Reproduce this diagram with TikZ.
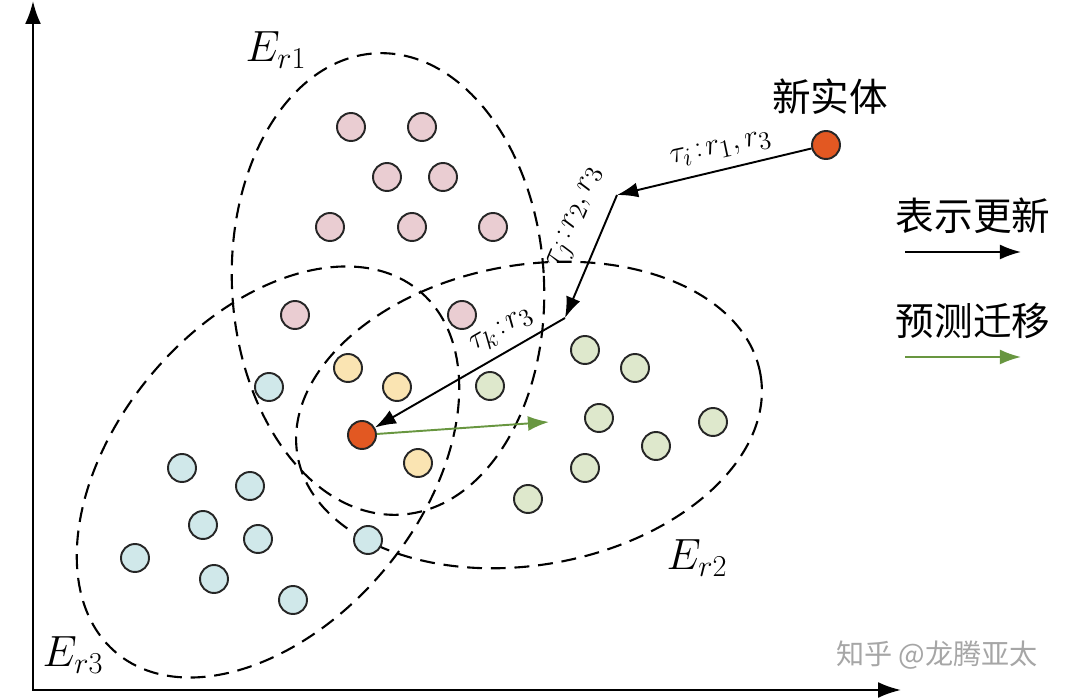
\documentclass[tikz,border=0pt]{standalone}
\usepackage{fontspec}
\newfontfamily\cjk{Noto Sans CJK SC}
\usepackage{tikz}
\usetikzlibrary{arrows.meta}
\definecolor{pinkfill}{RGB}{234,205,210}
\definecolor{yellowfill}{RGB}{250,228,178}
\definecolor{bluefill}{RGB}{208,232,234}
\definecolor{greenfill}{RGB}{222,232,204}
\definecolor{redfill}{RGB}{226,88,34}
\definecolor{movegreen}{RGB}{104,150,64}
\tikzset{
	ent/.style={
		circle,
		draw=black!85,
		line width=1.1pt,
		minimum size=0.56cm,
		inner sep=0pt
	}
}

\begin{document}
\begin{tikzpicture}[x=0.02cm,y=-0.02cm]
		\tikzstyle{region}=[line width=1.2pt, dash pattern=on 8.5pt off 5pt]
		\tikzstyle{axis}=[line width=1.3pt, {Latex[length=13pt,width=9pt]}-{Latex[length=13pt,width=9pt]}]
		\tikzstyle{update}=[line width=1.1pt, -{Latex[length=12pt,width=8.5pt]}]
		\tikzstyle{move}=[line width=1.1pt, draw=movegreen, -{Latex[length=12pt,width=8.5pt]}]
		\tikzstyle{lab}=[font=\fontsize{19}{20}\selectfont]
		\tikzstyle{setname}=[font=\fontsize{23}{24}\selectfont]
		\tikzstyle{zh}=[font=\cjk\fontsize{22}{24}\selectfont]
		\useasboundingbox (0,0) rectangle (1080,699);
		
		% axes
		\coordinate (o) at (33,690);
		\coordinate (ytop) at (33,1);
		\coordinate (xend) at (901,690);
		\draw[axis] (ytop) -- (o) -- (xend);
		
		% relation sets
		\draw[region, rotate around={3:(388,284)}] (388,284) ellipse [x radius=156, y radius=231];
		\draw[region, rotate around={10:(529,415)}] (529,415) ellipse [x radius=235, y radius=150];
		\draw[region, rotate around={50:(268,472)}] (268,472) ellipse [x radius=236, y radius=152];
		\node[setname] (er1) at (276,50) {$E_{r1}$};
		\node[setname] (er2) at (697,558) {$E_{r2}$};
		\node[setname] (er3) at (73,655) {$E_{r3}$};
		
		\node[ent, fill=pinkfill] (p1) at (351,127) {};
		\node[ent, fill=pinkfill] (p2) at (422,127) {};
		\node[ent, fill=pinkfill] (p3) at (387,177) {};
		\node[ent, fill=pinkfill] (p4) at (443,177) {};
		\node[ent, fill=pinkfill] (p5) at (330,227) {};
		\node[ent, fill=pinkfill] (p6) at (412,227) {};
		\node[ent, fill=pinkfill] (p7) at (493,227) {};
		\node[ent, fill=pinkfill] (p8) at (295,315) {};
		\node[ent, fill=pinkfill] (p9) at (462,315) {};
		
		\node[ent, fill=yellowfill] (y1) at (348,368) {};
		\node[ent, fill=yellowfill] (y2) at (397,387) {};
		\node[ent, fill=yellowfill] (y3) at (418,463) {};
		
		\node[ent, fill=bluefill] (c1) at (269,387) {};
		\node[ent, fill=bluefill] (c2) at (182,468) {};
		\node[ent, fill=bluefill] (c3) at (250,486) {};
		\node[ent, fill=bluefill] (c4) at (203,525) {};
		\node[ent, fill=bluefill] (c5) at (258,539) {};
		\node[ent, fill=bluefill] (c6) at (135,558) {};
		\node[ent, fill=bluefill] (c7) at (214,579) {};
		\node[ent, fill=bluefill] (c8) at (293,600) {};
		\node[ent, fill=bluefill] (c9) at (368,540) {};
		
		\node[ent, fill=greenfill] (g1) at (490,386) {};
		\node[ent, fill=greenfill] (g2) at (585,350) {};
		\node[ent, fill=greenfill] (g3) at (635,368) {};
		\node[ent, fill=greenfill] (g4) at (599,418) {};
		\node[ent, fill=greenfill] (g5) at (713,422) {};
		\node[ent, fill=greenfill] (g6) at (656,446) {};
		\node[ent, fill=greenfill] (g7) at (585,468) {};
		\node[ent, fill=greenfill] (g8) at (528,499) {};
		
		% new entity and its path
		\node[ent, fill=redfill] (new) at (826,145) {};
		\node[zh] (newlab) at (830,97) {新实体};
		\node[ent, fill=redfill] (tgt) at (362,435) {};
		\coordinate (k1) at (617,195);
		\coordinate (k2) at (565,318);
		\coordinate (gtip) at (549,422);
		
		\path
		(new) edge [update] (k1)
		(k1) edge [update] (k2)
		(k2) edge [update] (tgt)
		(tgt) edge [move] (gtip)
		;
		\node[lab, rotate=12] (ti) at (721,149) {$\tau_i\!:\!r_1,r_3$};
		\node[lab, rotate=67] (tj) at (577,218) {$\tau_j\!:\!r_2,r_3$};
		\node[lab, rotate=30] (tk) at (502,331) {$\tau_k\!:\!r_3$};
		
		% legend
		\node[zh] (leg1) at (973,216) {表示更新};
		\coordinate (l1a) at (905,252);
		\coordinate (l1b) at (1021,252);
		\draw[update] (l1a) -- (l1b);
		\node[zh] (leg2) at (973,321) {预测迁移};
		\coordinate (l2a) at (905,357);
		\coordinate (l2b) at (1021,357);
		\draw[move] (l2a) -- (l2b);
		
		\node[font=\cjk\fontsize{16}{18}\selectfont, text=black!35] (mark) at (937,655) {知乎 @龙腾亚太};
		
		\end{tikzpicture}
\end{document}
